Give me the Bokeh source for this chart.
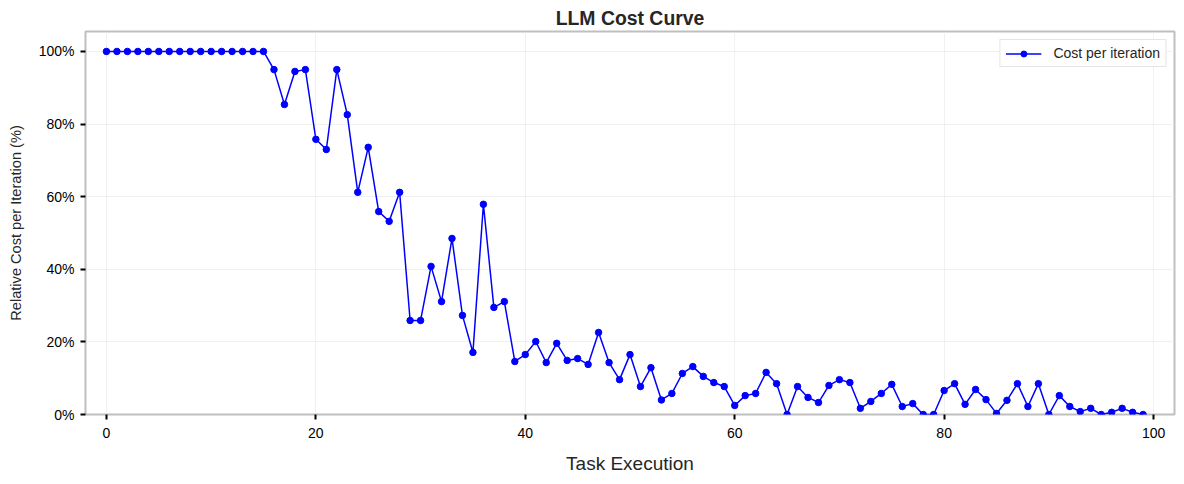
from bokeh.plotting import figure
from bokeh.embed import file_html
from bokeh.resources import INLINE
from bokeh.models import PrintfTickFormatter, FixedTicker, Range1d, Legend, LegendItem

task = list(range(100))
cost = [100]*16 + [
    95.0, 85.4, 94.5, 95.0, 75.8, 73.0, 95.0, 82.6, 61.2, 73.6,
    55.9, 53.2, 61.2, 25.9, 25.9, 40.8, 31.1, 48.5, 27.3, 17.1,
    57.9, 29.5, 31.1, 14.6, 16.5, 20.1, 14.3, 19.6, 14.9, 15.4,
    13.8, 22.6, 14.3, 9.6, 16.5, 7.7, 12.9, 4.0, 5.8, 11.3,
    13.2, 10.5, 8.8, 7.7, 2.5, 5.2, 5.8, 11.6, 8.5, 0.0,
    7.7, 4.7, 3.3, 8.0, 9.6, 8.8, 1.7, 3.6, 5.8, 8.3,
    2.2, 3.0, 0.0, 0.0, 6.6, 8.5, 2.8, 6.9, 4.1, 0.3,
    3.9, 8.5, 2.2, 8.5, 0.0, 5.2, 2.2, 0.8, 1.7, 0.0,
    0.6, 1.7, 0.6, 0.0,
]
x_ticks = [0, 20, 40, 60, 80, 100]
y_ticks = [0, 20, 40, 60, 80, 100]

FONT = "Liberation Sans"

p = figure(width=1184, height=484, output_backend="svg", toolbar_location=None,
           x_range=Range1d(-2, 102), y_range=Range1d(0, 105.5),
           min_border_left=85, min_border_right=10, min_border_bottom=70, min_border_top=31)

p.title.text = "LLM Cost Curve"
p.title.align = "center"
p.title.text_font = FONT
p.title.text_font_size = "19.4px"
p.title.text_font_style = "bold"
p.title.text_color = "#262626"
p.title.standoff = 6

line = p.line(task, cost, line_color="#0000ff", line_width=1.5)
pts = p.scatter(task, cost, size=6.5, fill_color="#0000ff", line_color="#0000ff")

legend = Legend(items=[LegendItem(label="Cost per iteration", renderers=[line, pts])],
                location="top_right", label_text_font=FONT, label_text_font_size="14px",
                label_text_color="#262626", border_line_color="#cccccc", border_line_width=1,
                background_fill_alpha=1.0, glyph_width=36, glyph_height=15,
                padding=5, spacing=0, margin=8, label_standoff=12)
p.add_layout(legend)

p.outline_line_color = "#bfbfbf"
p.outline_line_width = 2

for ax in (p.xaxis, p.yaxis):
    ax.axis_line_color = None
    ax.major_tick_line_color = "black"
    ax.major_tick_line_width = 2
    ax.major_tick_out = 5
    ax.major_tick_in = 0
    ax.minor_tick_line_color = None
    ax.major_label_text_font = FONT
    ax.major_label_text_font_size = "14px"
    ax.major_label_text_color = "black"
    ax.axis_label_text_font = FONT
    ax.axis_label_text_font_style = "normal"
    ax.axis_label_text_color = "#262626"

p.xaxis.ticker = FixedTicker(ticks=x_ticks)
p.yaxis.ticker = FixedTicker(ticks=y_ticks)
p.yaxis.formatter = PrintfTickFormatter(format="%d%%")
p.xaxis.axis_label = "Task Execution"
p.xaxis.axis_label_text_font_size = "19px"
p.yaxis.axis_label = "Relative Cost per Iteration (%)"
p.yaxis.axis_label_text_font_size = "14.6px"
p.xaxis.major_label_standoff = 8
p.xaxis.axis_label_standoff = 12
p.yaxis.major_label_standoff = 6
p.yaxis.axis_label_standoff = 12

p.grid.grid_line_color = "#ebebeb"
p.grid.grid_line_alpha = 0.7
p.grid.grid_line_width = 1

p.background_fill_color = "white"
p.border_fill_color = "white"

open("out.html", "w").write(file_html(p, INLINE))
